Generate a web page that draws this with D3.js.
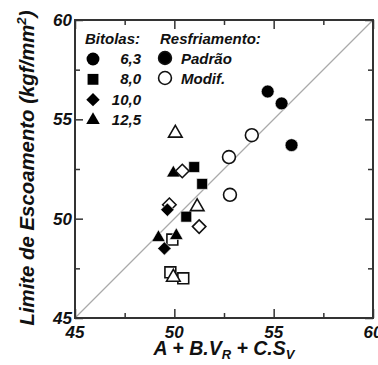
<!DOCTYPE html>
<html><head><meta charset="utf-8">
<script src="https://cdn.jsdelivr.net/npm/d3@7"></script>
<style>
body{margin:0;background:#fff;}
svg text{font-family:"Liberation Sans",Arial,sans-serif;font-weight:bold;font-style:italic;fill:#111;}
</style></head>
<body><svg id="c" width="378" height="365"></svg>
<script>
// Data (x = A + B.VR + C.SV, y = Limite de Escoamento)
const bitolas = ["6,3", "8,0", "10,0", "12,5"];
const xTicks = [45, 50, 55, 60];
const yTicks = [45, 50, 55, 60];
const minorTicks = [47.5, 52.5, 57.5];

const c63Padrao = [[54.7, 56.4], [55.4, 55.8], [55.9, 53.7]];
const c63Modif  = [[53.9, 54.2], [52.75, 53.1], [52.8, 51.2]];
const s80Padrao = [[51.0, 52.6], [51.4, 51.75], [50.6, 50.1]];
const s80Modif  = [[49.8, 47.3], [50.45, 47.0], [49.9, 48.95]];
const d10Padrao = [[49.65, 50.45], [49.5, 48.5]];
const d10Modif  = [[49.75, 50.7], [50.4, 52.4], [51.25, 49.6]];
const t125Padrao = [[49.95, 52.3], [49.2, 49.05], [50.1, 49.15]];
const t125Modif  = [[50.05, 54.3], [51.15, 50.6], [49.95, 47.05]];

const svg = d3.select("#c");
const L = 75, R = 373, T = 20, B = 318;
const x = d3.scaleLinear().domain([45, 60]).range([L, R]);
const y = d3.scaleLinear().domain([45, 60]).range([B, T]);

// diagonal 1:1 line
svg.append("line").attr("x1", x(45)).attr("y1", y(45)).attr("x2", x(60)).attr("y2", y(60))
  .attr("stroke", "#aaa").attr("stroke-width", 1.3);

// axes with inward ticks on all sides
function tickAxis(axisGen, tr, vals, size) {
  const g = svg.append("g").attr("transform", tr)
    .call(axisGen.tickValues(vals).tickSize(size).tickFormat(""));
  g.select(".domain").remove();
  g.selectAll("line").attr("stroke", "#333").attr("stroke-width", 1.5);
}
tickAxis(d3.axisTop(x), `translate(0,${B})`, xTicks, 9);
tickAxis(d3.axisTop(x), `translate(0,${B})`, minorTicks, 5);
tickAxis(d3.axisBottom(x), `translate(0,${T})`, xTicks, 9);
tickAxis(d3.axisBottom(x), `translate(0,${T})`, minorTicks, 5);
tickAxis(d3.axisRight(y), `translate(${L},0)`, yTicks, 8);
tickAxis(d3.axisRight(y), `translate(${L},0)`, minorTicks, 5);
tickAxis(d3.axisLeft(y), `translate(${R},0)`, yTicks, 8);
tickAxis(d3.axisLeft(y), `translate(${R},0)`, minorTicks, 5);

svg.append("rect").attr("x", L).attr("y", T).attr("width", R - L).attr("height", B - T)
  .attr("fill", "none").attr("stroke", "#333").attr("stroke-width", 2);

// tick labels
svg.append("g").selectAll("text").data(xTicks).join("text")
  .attr("x", d => x(d)).attr("y", B + 20).attr("text-anchor", "middle")
  .attr("font-size", 17).text(d => d);
svg.append("g").selectAll("text").data(yTicks).join("text")
  .attr("x", L - 3).attr("y", d => y(d) + 6).attr("text-anchor", "end")
  .attr("font-size", 17).text(d => d);

// axis titles
const xt = svg.append("text").attr("x", 224).attr("y", 355).attr("text-anchor", "middle").attr("font-size", 19.5);
xt.append("tspan").text("A + B.V");
xt.append("tspan").attr("font-size", 13).attr("dy", 4).text("R");
xt.append("tspan").attr("dy", -4).text(" + C.S");
xt.append("tspan").attr("font-size", 13).attr("dy", 4).text("V");

const yt = svg.append("text").attr("transform", "translate(34,168) rotate(-90)")
  .attr("text-anchor", "middle").attr("font-size", 20)
  .attr("textLength", 315).attr("lengthAdjust", "spacingAndGlyphs");
yt.append("tspan").text("Limite de Escoamento (kgf/mm");
yt.append("tspan").attr("font-size", 13).attr("dy", -8).text("2");
yt.append("tspan").attr("dy", 8).text(")");

// symbols
const diamondType = {
  draw(ctx, size) {
    const r = Math.sqrt(size / 2);
    ctx.moveTo(0, -r); ctx.lineTo(r, 0); ctx.lineTo(0, r); ctx.lineTo(-r, 0); ctx.closePath();
  }
};
const shapes = {
  circle: d3.symbol().type(d3.symbolCircle).size(130),
  square: d3.symbol().type(d3.symbolSquare).size(118),
  diamond: d3.symbol().type(diamondType).size(90),
  triangle: d3.symbol().type(d3.symbolTriangle).size(80)
};
function drawSeries(data, shape, filled) {
  svg.append("g").selectAll("path").data(data).join("path")
    .attr("d", shapes[shape])
    .attr("transform", d => `translate(${x(d[0])},${y(d[1])})`)
    .attr("fill", filled ? "#000" : "#fff")
    .attr("stroke", filled ? "#fff" : "#111")
    .attr("stroke-width", filled ? 0.6 : 1.6);
}
drawSeries(s80Modif, "square", false);
drawSeries(c63Modif, "circle", false);
drawSeries(d10Modif.slice(0, 1), "diamond", false);
drawSeries(c63Padrao, "circle", true);
drawSeries(s80Padrao, "square", true);
drawSeries(d10Padrao, "diamond", true);
drawSeries(t125Padrao, "triangle", true);
drawSeries(d10Modif.slice(1), "diamond", false);
drawSeries(t125Modif, "triangle", false);

// legend
const lg = svg.append("g");
lg.append("text").attr("x", 85).attr("y", 44).attr("font-size", 15).text("Bitolas:");
lg.append("text").attr("x", 160).attr("y", 44).attr("font-size", 15).text("Resfriamento:");
const legShapes = ["circle", "square", "diamond", "triangle"];
const legY = d3.scalePoint().domain(bitolas).range([59, 120]);
lg.selectAll("path.b").data(bitolas).join("path").attr("class", "b")
  .attr("d", (d, i) => shapes[legShapes[i]]())
  .attr("transform", d => `translate(93,${legY(d)})`).attr("fill", "#000");
lg.selectAll("text.b").data(bitolas).join("text").attr("class", "b")
  .attr("x", 141).attr("y", d => legY(d) + 5).attr("text-anchor", "end")
  .attr("font-size", 15).text(d => d);
const resf = ["Padrão", "Modif."];
const rY = d3.scalePoint().domain(resf).range([58, 78]);
lg.selectAll("path.r").data(resf).join("path").attr("class", "r")
  .attr("d", shapes.circle()).attr("transform", d => `translate(165,${rY(d)})`)
  .attr("fill", (d, i) => i ? "#fff" : "#000").attr("stroke", "#111").attr("stroke-width", 1.6);
lg.selectAll("text.r").data(resf).join("text").attr("class", "r")
  .attr("x", 181).attr("y", d => rY(d) + 6).attr("font-size", 15).text(d => d);
</script></body></html>
